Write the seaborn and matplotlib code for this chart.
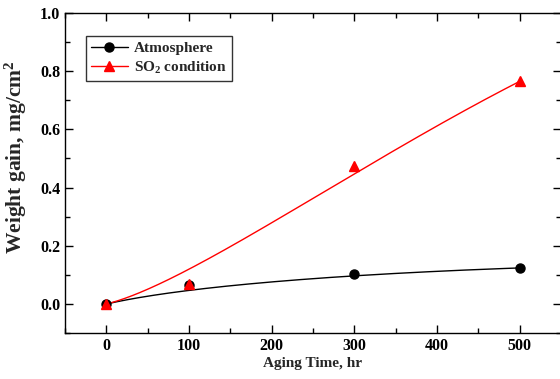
import numpy as np
import pandas as pd
import seaborn as sns
import matplotlib
matplotlib.use("Agg")
import matplotlib.pyplot as plt
from matplotlib.lines import Line2D
from matplotlib.ticker import MultipleLocator, FormatStrFormatter
from math import comb

hours = [0, 100, 300, 500]
atmosphere = [0.0, 0.065, 0.104, 0.124]
so2 = [0.0, 0.070, 0.475, 0.765]
series_names = ["Atmosphere", "SO$_{\\mathbf{2}}$ condition"]
colors = ["black", "#ff0000"]
markers = ["o", "^"]

sns.set_theme(style="ticks")
plt.rcParams["font.family"] = ["Liberation Serif", "DejaVu Serif"]
plt.rcParams["font.weight"] = "bold"
plt.rcParams["mathtext.fontset"] = "custom"
plt.rcParams["mathtext.rm"] = "Liberation Serif:bold"
plt.rcParams["mathtext.bf"] = "Liberation Serif:bold"
plt.rcParams["mathtext.it"] = "Liberation Serif:bold"

def bezier(xs, ys, n=200):
    # Origin-style B-spline: data points act as control points
    xs = np.asarray(xs, float); ys = np.asarray(ys, float)
    k = len(xs) - 1
    t = np.linspace(0, 1, n)
    B = np.array([comb(k, i) * (1 - t) ** (k - i) * t ** i for i in range(k + 1)])
    return B.T @ xs, B.T @ ys

fig = plt.figure(figsize=(5.6, 3.79), dpi=100)
ax = fig.add_axes([0.116, 0.121, 0.886, 0.845])

rows = []
for name, vals in zip(series_names, [atmosphere, so2]):
    cx, cy = bezier(hours, vals)
    rows.append(pd.DataFrame({"x": cx, "y": cy, "series": name}))
curves = pd.concat(rows, ignore_index=True)
pts = pd.concat([pd.DataFrame({"x": hours, "y": v, "series": n})
                 for n, v in zip(series_names, [atmosphere, so2])], ignore_index=True)

pal = dict(zip(series_names, colors))
sns.lineplot(data=curves, x="x", y="y", hue="series", palette=pal, sort=False,
             linewidth=1.0, legend=False, ax=ax)
for name, m in zip(series_names, markers):
    sub = pts[pts.series == name]
    ax.plot(sub.x, sub.y, linestyle="none", marker=m, color=pal[name],
            markersize=6.5 if m == "o" else 7, zorder=3)

ax.set_xlim(-50, 550)
ax.set_ylim(-0.1, 1.0)
ax.xaxis.set_major_locator(MultipleLocator(100))
ax.xaxis.set_minor_locator(MultipleLocator(50))
ax.yaxis.set_major_locator(MultipleLocator(0.2))
ax.yaxis.set_minor_locator(MultipleLocator(0.1))
ax.yaxis.set_major_formatter(FormatStrFormatter("%.1f"))
ax.tick_params(which="both", direction="in", top=True, right=True, labelsize=11.5,
               width=1.0, colors="black")
ax.tick_params(which="major", length=6)
ax.tick_params(which="minor", length=3.5)
for lab in ax.get_xticklabels() + ax.get_yticklabels():
    lab.set_fontweight("bold")
for s in ax.spines.values():
    s.set_linewidth(1.0)
    s.set_color("black")

ax.set_xlabel("Aging Time, hr", fontsize=11, fontweight="bold", labelpad=2)
ax.set_ylabel("Weight gain, mg/cm$^{2}$", fontsize=15.5, fontweight="bold")
ax.yaxis.set_label_coords(-0.072, 0.55)

handles = [Line2D([], [], color=c, marker=m, markersize=6.5, linewidth=1.0)
           for c, m in zip(colors, markers)]
leg = ax.legend(handles, series_names, loc="upper left", bbox_to_anchor=(0.042, 0.928),
                borderaxespad=0, frameon=True, fancybox=False,
                prop={"weight": "bold", "size": 11},
                handlelength=2.4, borderpad=0.35, labelspacing=0.3, handletextpad=0.4)
leg.get_frame().set_edgecolor("black")
leg.get_frame().set_linewidth(1.0)

fig.savefig("out.png", dpi=100)
